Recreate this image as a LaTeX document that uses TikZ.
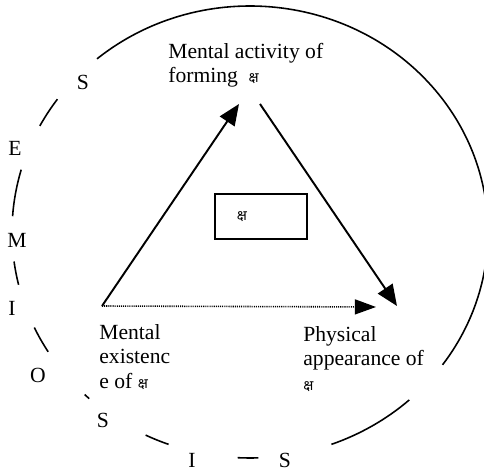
\documentclass[tikz,border=0pt]{standalone}
\usepackage{fontspec}
\setmainfont{Liberation Serif}
\newfontfamily\devfont[Script=Devanagari]{Noto Sans}
\usetikzlibrary{arrows.meta}
\newcommand{\ksa}{{\devfont\fontsize{8}{8}\selectfont क्ष}}

\begin{document}
\begin{tikzpicture}[x=0.02cm, y=-0.02cm,
    lbl/.style={anchor=north west, inner sep=0pt, align=left, font=\fontsize{12.3}{13.9}\selectfont},
    letter/.style={inner sep=0pt, font=\fontsize{12.3}{13.9}\selectfont},
    edge/.style={line width=1.1pt, -{Triangle[length=12pt, width=10pt]}},
    dotedge/.style={line width=0.9pt, dash pattern=on 0.6pt off 0.6pt, -{Triangle[length=12pt, width=8.5pt]}},
    ring/.style={line width=0.9pt},
    framebox/.style={draw, line width=0.8pt, minimum width=1.84cm, minimum height=0.9cm}]
    \useasboundingbox (0,0) rectangle (484,472);
    \clip (0,0) rectangle (484,472);
    \coordinate (C) at (250,232);
    \foreach \s/\e in {-130/36, 48/70, 88/93, 110/116, 132.5/134, 148/155, 166.5/172.5, 184/196, 208/216}
        \draw[ring] (C) ++(\s:238 and 226) arc[start angle=\s, end angle=\e, x radius=238, y radius=226];
    \foreach \l/\x/\y [count=\i] in {S/83/82, E/15/148, M/17/240, I/12/308, O/38/375, S/103/420, I/192/460, S/285/460}
        \node[letter] (s\i) at (\x,\y) {\l};
    \coordinate (L) at (102,306);
    \coordinate (T1) at (239,104);
    \coordinate (T2) at (260,104);
    \coordinate (R) at (397,306);
    \coordinate (D) at (376,307);
    \draw[edge] (L) -- (T1);
    \draw[edge] (T2) -- (R);
    \draw[dotedge] (L) -- (D);%
    \node[lbl] (act) at (168,43) {Mental activity of\\forming\hspace{6pt}\ksa};
    \node[lbl] (exist) at (99,324) {Mental\\existenc\\e of \ksa};
    \node[lbl] (phys) at (303,326) {Physical\\appearance of\\\ksa};
    \node[framebox] (frm) at (261,216.5) {};
    \node[inner sep=0pt] (frmsym) at (242,217) {\ksa};
\end{tikzpicture}
\end{document}
